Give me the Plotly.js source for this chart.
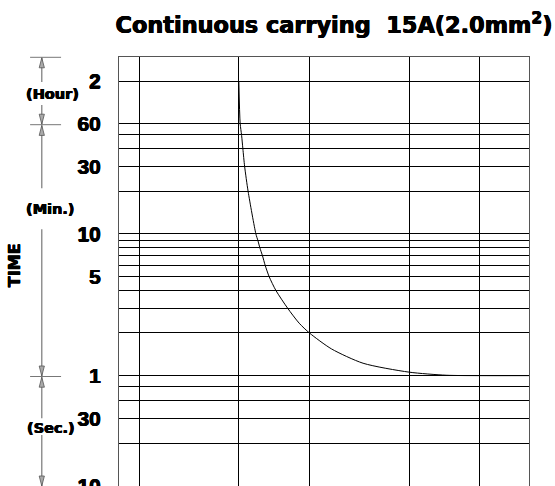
<!DOCTYPE html>
<html>
<head>
<meta charset="utf-8">
<script src="https://cdn.plot.ly/plotly-3.0.1.min.js"></script>
<style>
html,body{margin:0;padding:0;overflow:hidden;background:#fff;}
#chart{width:555px;height:486px;}
</style>
</head>
<body>
<div id="chart"></div>
<script>
// ---- data ----
// curve: current (relative units on log x-axis) vs. time in seconds
const current = [15.0, 15.08, 15.17, 15.25, 15.36, 15.58, 16.08, 16.21, 16.34, 16.52, 16.70, 16.97, 17.44, 18.29, 19.18, 20.0, 21.88, 24.88, 30.0, 34.9, 40.0, 48.9];
const timeSec = [7200, 3627, 2985, 2390, 1792, 1194, 600, 540, 480, 420, 360, 300, 240, 180, 140.7, 120, 92.6, 73.4, 63.5, 60.4, 60, 60];

// labelled y ticks (seconds) and their labels
const yTickVals = [10, 30, 60, 300, 600, 1800, 3600, 7200];
const yTickText = ["10", "30", "1", "5", "10", "30", "60", "2"];
// unlabelled y gridlines (seconds)
const yMinorVals = [20, 40, 50, 120, 180, 240, 360, 420, 480, 540, 1200, 2400, 3000];

// x gridlines
const xGridVals = [10, 15, 20, 30, 40];

// unit labels on the left
const unitLabels = ["(Hour)", "(Min.)", "(Sec.)"];
const axisTitle = "TIME";
const titleText = "Continuous carrying&nbsp;&nbsp;15A(2.0mm<sup>2</sup>)";

// ---- layout helpers (pixel -> paper) ----
const W = 555, H = 486, L = 119, R = 529.5, T = 57, B = 486;
const fx = px => (px - L) / (R - L);
const fy = py => (B - py) / (B - T);

const gray = '#777';
const heavy = '0.5px 0 0 #000, -0.4px 0 0 #000, 0 0.3px 0 #000';
const labelFont = {family: 'DejaVu Sans', size: 14.5, color: '#000', weight: 'bold', shadow: heavy};

const annotations = [
  {text: unitLabels[0], x: fx(52.5), y: fy(94.3)},
  {text: unitLabels[1], x: fx(50.3), y: fy(209)},
  {text: unitLabels[2], x: fx(50.5), y: fy(428.3)},
].map(a => Object.assign({xref: 'paper', yref: 'paper', showarrow: false, xanchor: 'center', yanchor: 'middle', font: labelFont}, a));

annotations.push({text: axisTitle, x: fx(14), y: fy(265), xref: 'paper', yref: 'paper', showarrow: false,
  xanchor: 'center', yanchor: 'middle', textangle: -90,
  font: {family: 'DejaVu Sans', size: 16, color: '#000', weight: 'bold', shadow: heavy}});

// left-hand bracket: horizontal ticks, vertical segments, arrowheads
const shapes = [];
[57.3, 124.7, 376.5].forEach(py => shapes.push({type: 'line', xref: 'paper', yref: 'paper',
  x0: fx(30), x1: fx(61), y0: fy(py), y1: fy(py), line: {color: gray, width: 1}}));

const ax0 = 41.7;
// [tipY, tailY]
const arrowSpecs = [[57.8, 82], [124.2, 105], [125.4, 188.3], [376, 229.3], [377.2, 418.3], [486, 435]];
arrowSpecs.forEach(s => {
  const tip = s[0], tail = s[1];
  const dir = tail > tip ? 1 : -1; // +1: arrow points up
  shapes.push({type: 'line', xref: 'paper', yref: 'paper', x0: fx(ax0), x1: fx(ax0), y0: fy(tip), y1: fy(tail),
    line: {color: gray, width: 1.2}});
  const base = tip + dir * 10;
  const path = 'M' + fx(ax0) + ',' + fy(tip) + ' L' + fx(ax0 - 2.6) + ',' + fy(base) +
               ' L' + fx(ax0 + 2.6) + ',' + fy(base) + ' Z';
  shapes.push({type: 'path', xref: 'paper', yref: 'paper', path: path,
    fillcolor: '#aaa', line: {color: '#555', width: 0.8}});
});

const trace = {
  x: current, y: timeSec, type: 'scatter', mode: 'lines',
  line: {color: '#000', width: 1, shape: 'spline', smoothing: 0.7},
  hoverinfo: 'skip'
};

const layout = {
  width: W, height: H,
  margin: {l: L, r: W - R, t: T, b: H - B, pad: 0},
  paper_bgcolor: '#fff', plot_bgcolor: '#fff',
  showlegend: false,
  title: {text: titleText, xref: 'container', yref: 'container', x: 115.5 / W, xanchor: 'left',
    y: 1 - 25 / H, yanchor: 'middle',
    font: {family: 'DejaVu Sans', size: 22.4, color: '#000', weight: 'bold', shadow: heavy}},
  xaxis: {type: 'log', range: [0.9641, 1.6894], tickmode: 'array', tickvals: xGridVals,
    showticklabels: false, ticks: '', showgrid: true, gridcolor: '#000', gridwidth: 1,
    showline: true, mirror: true, linecolor: '#555', linewidth: 1, zeroline: false, fixedrange: true},
  yaxis: {type: 'log', range: [0.999, 4.0275], tickmode: 'array', tickvals: yTickVals, ticktext: yTickText,
    ticks: '', ticklabelstandoff: 13, ticklabeloverflow: 'allow', showgrid: true, gridcolor: '#000', gridwidth: 1,
    minor: {tickmode: 'array', tickvals: yMinorVals, showgrid: true, gridcolor: '#000', gridwidth: 1, ticks: ''},
    tickfont: {family: 'Liberation Sans, Arial', size: 21, color: '#000', weight: 'bold', shadow: heavy},
    showline: true, mirror: true, linecolor: '#555', linewidth: 1, zeroline: false, fixedrange: true},
  annotations: annotations,
  shapes: shapes
};

Plotly.newPlot('chart', [trace], layout, {staticPlot: true, displayModeBar: false});
</script>
</body>
</html>
